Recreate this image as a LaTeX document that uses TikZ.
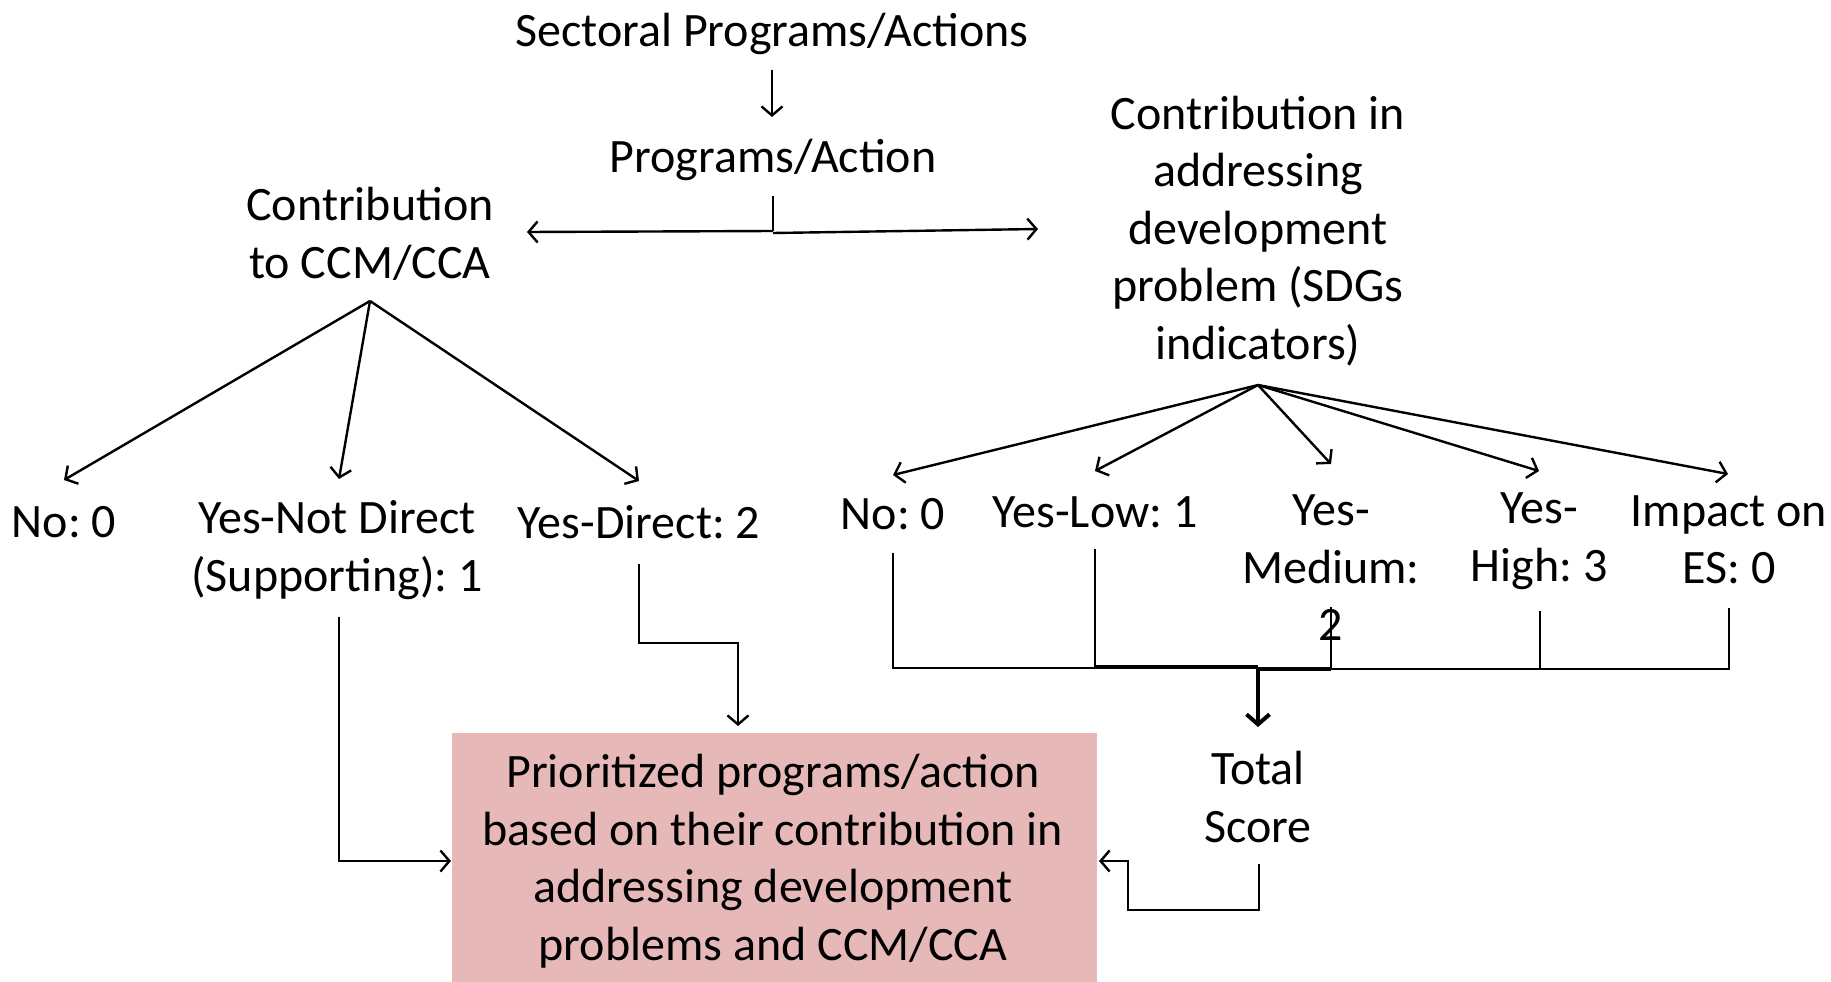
\documentclass[tikz,border=0pt]{standalone}
\usepackage{fontspec}
\setmainfont{Carlito}
\usetikzlibrary{arrows.meta}
\definecolor{boxpink}{HTML}{E6B9B8}
\frenchspacing
\begin{document}
\begin{tikzpicture}[x=1pt,y=-1pt,
  lbl/.style={font=\fontsize{48}{57.5}\selectfont, align=center, inner sep=0pt},
  wire/.style={line width=2.4pt},
  conn/.style={line width=2.4pt, -{Straight Barb[length=9pt,width=21pt,line width=2.4pt]}},
  boldwire/.style={line width=4pt},
  boldconn/.style={line width=4pt, -{Straight Barb[length=10pt,width=23pt,line width=4pt]}}]
\useasboundingbox (0,0) rectangle (1831,982);

% result box
\node[fill=boxpink, minimum width=645pt, minimum height=249pt, inner sep=0pt] (box) at (774.5,857.5) {};
\node[lbl] (boxtxt) at (773,861) {Prioritized programs/action\\based on their contribution in\\addressing development\\problems and CCM/CCA};

% headings
\node[lbl] (sect) at (772,34) {Sectoral Programs/Actions};
\node[lbl] (prog) at (773,160) {Programs/Action};
\node[lbl] (ccm) at (370,234) {Contribution\\to CCM/CCA};
\node[lbl] (sdg) at (1258,231) {Contribution in\\addressing\\development\\problem (SDGs\\indicators)};

% climate scores
\node[lbl] (l0) at (64,522) {No: 0};
\node[lbl] (l1) at (337,550) {Yes-Not Direct\\(Supporting): 1};
\node[lbl] (l2) at (639,522) {Yes-Direct: 2};

% development scores
\node[lbl] (r0) at (893,514) {No: 0};
\node[lbl] (r1) at (1095,512) {Yes-Low: 1};
\node[lbl] (r2) at (1331,568) {Yes-\\Medium:\\2};
\node[lbl] (r3) at (1539,541) {Yes-\\High: 3};
\node[lbl] (r4) at (1729,540) {Impact on\\ES: 0};

\node[lbl] (tot) at (1258,797) {Total\\Score};

% connector end points
\coordinate (sectout) at (772,70);
\coordinate (progin) at (772,117);
\coordinate (progout) at (773,196);
\coordinate (split) at (773,231);
\coordinate (ccmin) at (527,232);
\coordinate (sdgin) at (1038,229);
\coordinate (ccmapex) at (370,301);
\coordinate (l0in) at (64,480);
\coordinate (l1in) at (339,479);
\coordinate (l2in) at (639,481);
\coordinate (sdgapex) at (1258,385);
\coordinate (r0in) at (893,475);
\coordinate (r1in) at (1095,471);
\coordinate (r2in) at (1331,464);
\coordinate (r3in) at (1539,471);
\coordinate (r4in) at (1728,474);
\coordinate (r0out) at (893,553);
\coordinate (r1out) at (1095,549);
\coordinate (r2out) at (1331,607);
\coordinate (r3out) at (1540,611);
\coordinate (r4out) at (1729,608);
\coordinate (join) at (1258,668);
\coordinate (totin) at (1258,727);
\coordinate (l1out) at (339,617);
\coordinate (l2out) at (639,564);
\coordinate (boxtop) at (738,726);
\coordinate (boxleft) at (451,861);
\coordinate (totout) at (1259,864);
\coordinate (boxright) at (1099,861);

% top of the tree
\draw[conn] (sectout) -- (progin);
\draw[wire] (progout) -- (split);
\draw[conn] (split) -- (ccmin);
\draw[conn] ([yshift=-2pt]split) -- (sdgin);

% branches
\foreach \t in {l0in,l1in,l2in} \draw[conn] (ccmapex) -- (\t);
\foreach \t in {r0in,r1in,r2in,r3in,r4in} \draw[conn] (sdgapex) -- (\t);

% summing bracket
\draw[wire] (r0out) |- (r1out |- join);
\draw[wire] (r1out) -- (r1out |- join);
\draw[boldwire] ([yshift=1.5pt]r1out |- join) -- ([yshift=1.5pt]join);
\draw[boldwire] ([yshift=-1pt]join) -- ([yshift=-1pt]r2out |- join);
\draw[wire] (r2out) -- ([yshift=-1pt]r2out |- join);
\draw[wire] (r3out) |- ([yshift=-1pt]r2out |- join);
\draw[wire] (r4out) |- ([yshift=-1pt]r3out |- join);
\draw[boldconn] (join) -- (totin);

% into the result box
\draw[conn] (l1out) |- (boxleft);
\draw[conn] (l2out) -- (639,643) -| (boxtop);
\draw[conn] (totout) -- (1259,910) -| (1128,861) -- (boxright);
\end{tikzpicture}
\end{document}
